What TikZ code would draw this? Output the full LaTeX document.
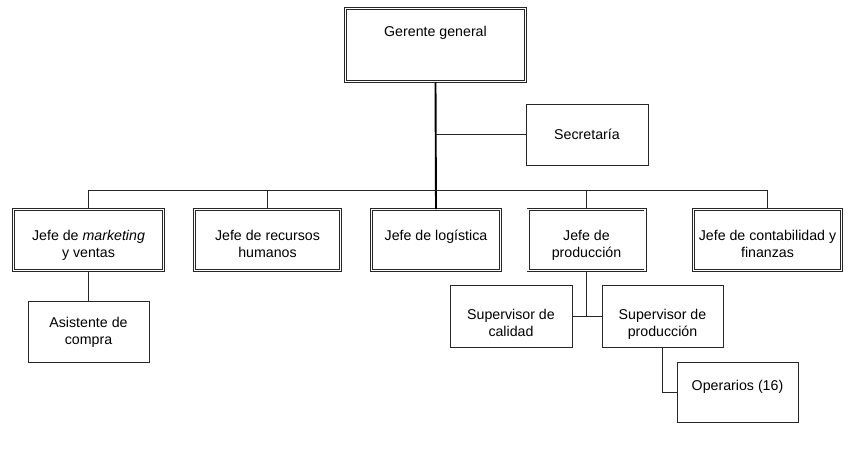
\documentclass[tikz,border=0pt]{standalone}
\usepackage{fontspec}
\setmainfont{Liberation Sans}
\newcommand{\twol}[2]{\begin{tabular}[t]{@{}c@{}}#1\\#2\end{tabular}}
\begin{document}
\begin{tikzpicture}[x=1pt,y=-1pt,
  base/.style={draw=black!85, inner sep=0pt, font=\fontsize{14.2}{17}\selectfont, text height=10pt},
  dbox/.style={base, double, double distance=1.8pt, line width=0.6pt},
  sbox/.style={base, line width=0.8pt},
  conn/.style={line width=0.9pt, black!85},
  thick conn/.style={line width=1.9pt, black}]
\useasboundingbox (0,0) rectangle (855,458);

\node[dbox, minimum width=180, minimum height=73, text depth=28pt] (gg) at (435.5,45) {Gerente general};
\node[sbox, minimum width=122, minimum height=61, text depth=1pt] (sec) at (587,134.5) {Secretaría};

\node[dbox, minimum width=150, minimum height=61, text depth=10pt] (mk) at (88.5,240) {\twol{Jefe de \textit{marketing}}{y ventas}};
\node[dbox, minimum width=146, minimum height=61, text depth=10pt] (rh) at (267.5,240) {\twol{Jefe de recursos}{humanos}};
\node[dbox, minimum width=129, minimum height=61, text depth=10pt] (lg) at (436,240) {Jefe de logística};
\node[dbox, minimum width=117, minimum height=61, text depth=10pt] (pr) at (586.5,240) {\twol{Jefe de}{producción}};
\node[dbox, minimum width=148, minimum height=61, text depth=10pt] (ct) at (767.5,240) {\twol{Jefe de contabilidad y}{finanzas}};

\node[sbox, minimum width=121, minimum height=61, text depth=19pt] (as) at (88.5,331.5) {\twol{Asistente de}{compra}};
\node[sbox, minimum width=122, minimum height=62, text depth=4pt] (sc) at (511,316) {\twol{Supervisor de}{calidad}};
\node[sbox, minimum width=121, minimum height=62, text depth=4pt] (sp) at (662.5,316) {\twol{Supervisor de}{producción}};
\node[sbox, minimum width=121, minimum height=60, text depth=14pt] (op) at (737.5,392) {Operarios (16)};

\coordinate (bus) at (436,190);
\draw[thick conn] (gg.south) -- (lg.north);
\draw[conn] (gg.south |- sec.west) -- (sec.west);
\draw[conn] (mk.north) -- (mk.north |- bus) -- (ct.north |- bus) -- (ct.north);
\draw[conn] (rh.north) -- (rh.north |- bus);
\draw[conn] (pr.north) -- (pr.north |- bus);
\draw[conn] (mk.south) -- (mk.south |- as.north);
\draw[conn] (sc.east) -- (sp.west);
\draw[conn] (pr.south) -- (pr.south |- sc.east);
\draw[conn] (sp.south) -- (sp.south |- op.west) -- (op.west);
\end{tikzpicture}
\end{document}
